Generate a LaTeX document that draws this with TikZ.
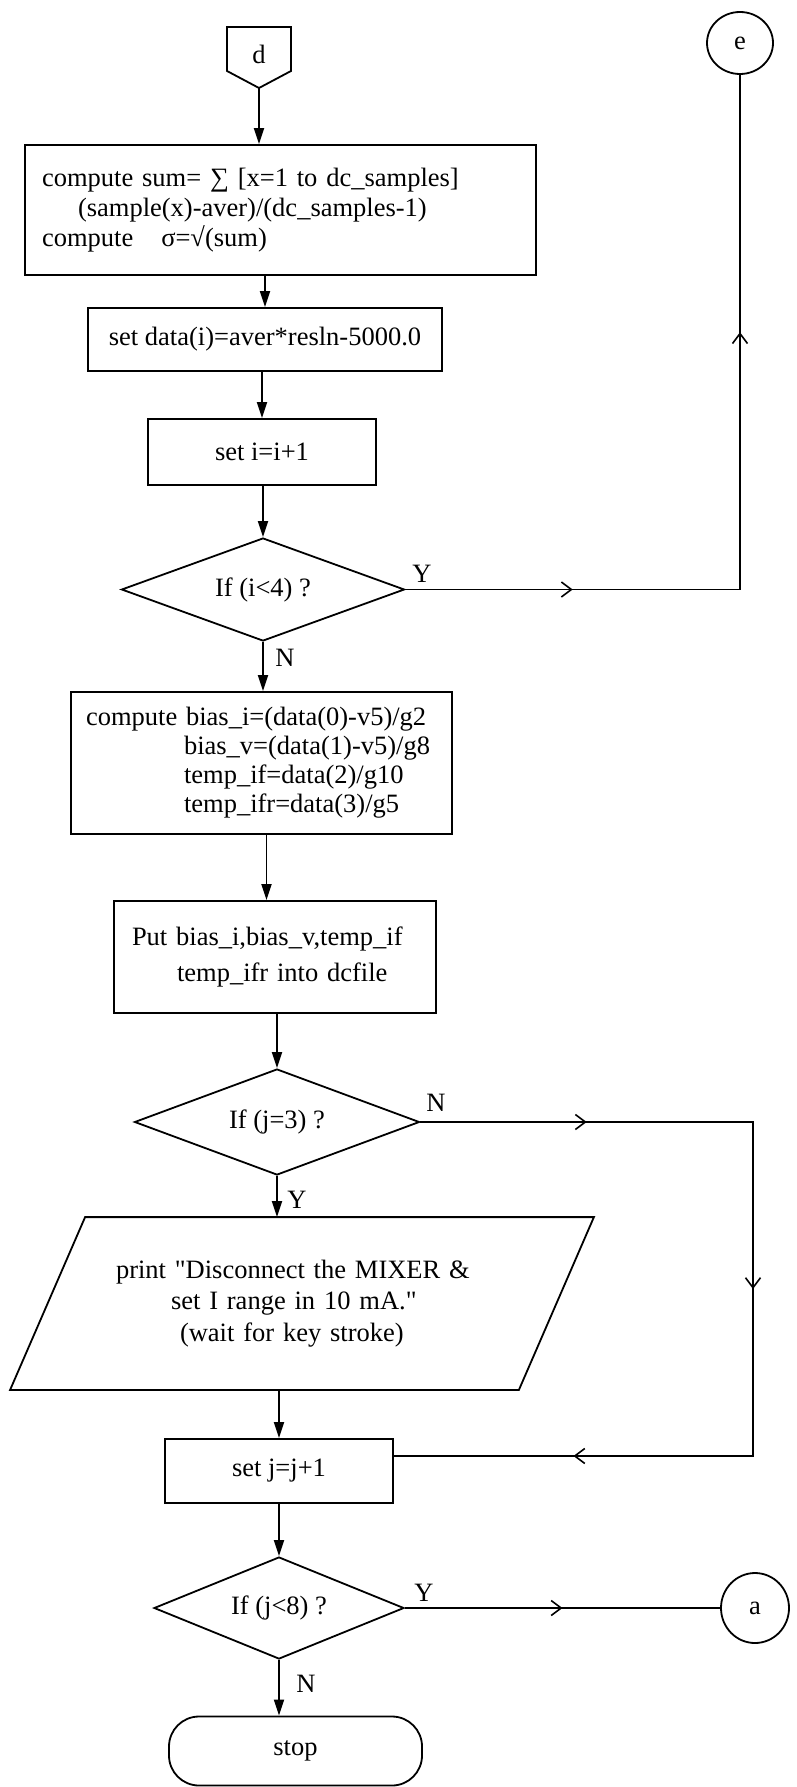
\documentclass[tikz,border=0pt]{standalone}
\usepackage{fontspec}
\setmainfont{Liberation Serif}[Ligatures=TeXOff]
\usetikzlibrary{shapes.geometric,arrows.meta,decorations.markings,calc}

\begin{document}
\begin{tikzpicture}[x=1pt,y=-1pt,line width=1.8pt,
  txt/.style={font=\fontsize{26.5}{30}\selectfont,inner sep=0pt},
  box/.style={draw,rectangle,inner sep=0pt,txt},
  decision/.style={draw,diamond,aspect=3,inner sep=0pt,txt},
  conn/.style={draw,ellipse,inner sep=0pt,txt},
  flow/.style={line width=1.8pt,-{Triangle[length=16pt,width=10pt]}},
  link/.style={line width=1.8pt,line join=miter},
  midarrow/.style={postaction={decorate},decoration={markings,
    mark=at position 0.5 with {\arrow{Straight Barb[length=10pt,width=15pt,line width=1.6pt]}}}}
]
\useasboundingbox (0,0) rectangle (796,1787);

% off-page connector d
\node[txt] (d) at (259,54) {d};
\draw (227,27) -- (291,27) -- (291,71) -- (259,88) -- (227,71) -- cycle;
\coordinate (dtip) at (259,88);

% on-page connector e
\node[conn,minimum width=66pt,minimum height=62pt] (e) at (740,43) {e};

% process boxes
\node[box,minimum height=130pt,text width=477pt,inner xsep=17pt,align=left] (sum) at (280.5,210)
  {compute sum= ∑ [x=1 to dc\_samples]\\
   \hspace*{36pt}(sample(x)-aver)/(dc\_samples-1)\\
   compute\hspace{28pt}σ=√(sum)};

\node[box,minimum width=354pt,minimum height=63pt] (data) at (265,339.5)
  {set data(i)=aver*resln-5000.0};

\node[box,minimum width=228pt,minimum height=66pt] (inc) at (262,452) {set i=i+1};

\node[decision,minimum width=283pt,minimum height=103pt] (ifi) at (263,589.5) {If (i<4) ?};

\node[box,minimum height=142pt,text width=351pt,inner xsep=15pt,align=left,
  font=\fontsize{26.5}{29}\selectfont] (bias) at (261.5,763)
  {compute bias\_i=(data(0)-v5)/g2\\
   \hspace*{98pt}bias\_v=(data(1)-v5)/g8\\
   \hspace*{98pt}temp\_if=data(2)/g10\\
   \hspace*{98pt}temp\_ifr=data(3)/g5};

\node[box,minimum height=112pt,text width=286pt,inner xsep=18pt,align=left,
  font=\fontsize{26.5}{36}\selectfont] (put) at (275,957)
  {Put bias\_i,bias\_v,temp\_if\\
   \hspace*{45pt}temp\_ifr into dcfile};

\node[decision,minimum width=285pt,minimum height=106pt] (ifj) at (277,1122) {If (j=3) ?};

% input/output parallelogram
\node[txt,minimum height=171pt,text width=372pt,inner xsep=67.5pt,align=left,
  font=\fontsize{26.5}{31.5}\selectfont] (msg) at (302,1303.5)
  {print "Disconnect the MIXER \&\\
   \hspace*{55pt}set I range in 10 mA."\\
   \hspace*{64pt}(wait for key stroke)};
\draw ([xshift=-37.5pt]msg.south west) -- ([xshift=-37.5pt]msg.south east)
  -- ([xshift=37.5pt]msg.north east) -- ([xshift=37.5pt]msg.north west) -- cycle;

\node[box,minimum width=228pt,minimum height=64pt] (incj) at (279,1471) {set j=j+1};

\node[decision,minimum width=250pt,minimum height=102pt] (ifk) at (279,1608) {If (j<8) ?};

\node[conn,minimum width=68pt,minimum height=70pt] (a) at (755,1608) {a};

\node[draw,txt,rounded corners=30pt,minimum width=253pt,minimum height=69pt] (stop) at (295.5,1751) {stop};

% main flow
\draw[flow] (dtip) -- (dtip |- sum.north);
\draw[flow] (sum.south -| data) -- (data.north);
\draw[flow] (data.south -| inc) -- (inc.north);
\draw[flow] (inc.south -| ifi) -- (ifi.north);
\draw[flow] (ifi.south) -- (ifi.south |- bias.north);
\draw[flow] ([xshift=5pt]bias.south) -- ([xshift=5pt]bias.south |- put.north);
\draw[flow] (put.south -| ifj) -- (ifj.north);
\draw[flow] (ifj.south) -- (ifj.south |- msg.north);
\draw[flow] (msg.south -| incj) -- (incj.north);
\draw[flow] (incj.south -| ifk) -- (ifk.north);
\draw[flow] (ifk.south) -- (ifk.south |- stop.north);

% loop back to e
\coordinate (c1) at (e.south |- ifi.east);
\draw[link] (ifi.east) -- (c1) -- (e.south);
\draw[link,midarrow] (ifi.east) -- (c1);
\draw[link,midarrow] (c1) -- (e.south);

% bypass of the message
\coordinate (c2) at (753,1122);
\coordinate (c3) at (753,1456);
\coordinate (c4) at (c3 -| incj.east);
\draw[link] (ifj.east) -- (c2) -- (c3) -- (c4);
\draw[link,midarrow] (ifj.east) -- (c2);
\draw[link,midarrow] (c2) -- (c3);
\draw[link,midarrow] (c3) -- (c4);

% exit to a
\draw[link,midarrow] (ifk.east) -- (a.west);

% branch labels
\node[txt] (yi) at (422,574) {Y};
\node[txt] (ni) at (285,658) {N};
\node[txt] (nj) at (436,1103) {N};
\node[txt] (yj) at (297,1200) {Y};
\node[txt] (yk) at (424,1593) {Y};
\node[txt] (nk) at (306,1684) {N};
\end{tikzpicture}
\end{document}
